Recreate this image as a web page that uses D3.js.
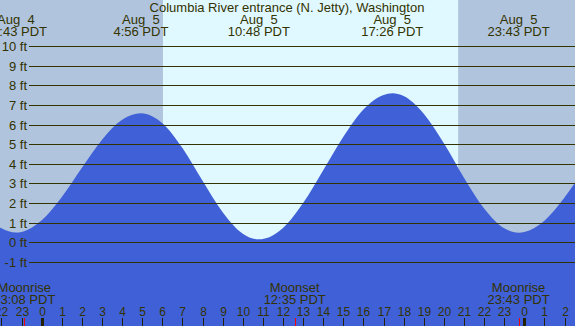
<!DOCTYPE html>
<html>
<head>
<meta charset="utf-8">
<script src="https://cdn.jsdelivr.net/npm/d3@7"></script>
<style>
  body { margin: 0; background: #fff; }
  text { font-family: "Liberation Sans", Arial, sans-serif; fill: #333300; white-space: pre; }
</style>
</head>
<body>
<svg id="chart" width="575" height="326"></svg>
<script>
// hours relative to midnight Aug 5, tide height in feet
const tideHours = [-3, -2, -1, 0, 1, 2, 3, 4, 5, 6, 7, 8, 9, 10, 11, 12, 13, 14, 15, 16, 17, 18, 19, 20, 21, 22, 23, 24, 25, 26, 27];
const tideFeet  = [1.5, 0.72, 0.53, 1.12, 2.31, 3.8, 5.23, 6.24, 6.56, 6.06, 4.8, 3.13, 1.53, 0.44, 0.17, 0.73, 2.0, 3.67, 5.38, 6.77, 7.51, 7.45, 6.55, 5.04, 3.29, 1.72, 0.71, 0.52, 1.1, 2.28, 3.77];

// high / low tides
const extremeHours = [-1.283, 4.933, 10.8, 17.433, 23.717];
const extremeFeet = [0.5, 6.57, 0.15, 7.59, 0.49];
const extremeDays = ["Aug  4", "Aug  5", "Aug  5", "Aug  5", "Aug  5"];
const extremeTimes = ["22:43 PDT", "4:56 PDT", "10:48 PDT", "17:26 PDT", "23:43 PDT"];

const moonHours = [-0.867, 12.583, 23.717];
const moonNames = ["Moonrise", "Moonset", "Moonrise"];
const moonTimes = ["23:08 PDT", "12:35 PDT", "23:43 PDT"];

const sunrise = 6.03, sunset = 20.71;
const feetTicks = d3.range(-1, 11);
const hourTicks = d3.range(-2, 27);

const width = 575, height = 326;
const svg = d3.select("#chart");

const x = d3.scaleLinear().domain([0, 24]).range([41.7, 524.3]);
const y = d3.scaleLinear().domain([0, 10]).range([242.3, 46]);

// night / day background
svg.append("rect").attr("x", 0).attr("y", 0).attr("width", width).attr("height", height).attr("fill", "#b0c4de");
svg.append("rect")
  .attr("x", x(sunrise)).attr("y", 0)
  .attr("width", x(sunset) - x(sunrise)).attr("height", height)
  .attr("fill", "#e0f8ff");

// water: hourly readings plus the extremes, sorted by time
const pts = tideHours.map((h, i) => [h, tideFeet[i]])
  .filter(p => extremeHours.every(e => Math.abs(e - p[0]) > 0.25))
  .concat(extremeHours.map((h, i) => [h, extremeFeet[i]]))
  .sort((a, b) => a[0] - b[0]);
const area = d3.area()
  .x(d => x(d[0]))
  .y0(height)
  .y1(d => y(d[1]))
  .curve(d3.curveMonotoneX);
svg.append("path").datum(pts).attr("d", area).attr("fill", "#4060d8");

// horizontal grid + feet labels
feetTicks.forEach(f => {
  const yy = Math.round(y(f)) + 0.5;
  svg.append("line")
    .attr("x1", 29).attr("x2", width)
    .attr("y1", yy).attr("y2", yy)
    .attr("stroke", "#333300").attr("stroke-width", 1);
  svg.append("text")
    .attr("x", 27).attr("y", yy + 4.5)
    .attr("text-anchor", "end")
    .attr("font-size", 13)
    .text(f + " ft");
});

// title
svg.append("text")
  .attr("x", 287).attr("y", 12)
  .attr("text-anchor", "middle")
  .attr("font-size", 13)
  .text("Columbia River entrance (N. Jetty), Washington");

// high / low labels
extremeHours.forEach((h, i) => {
  svg.append("text").attr("x", x(h)).attr("y", 24)
    .attr("text-anchor", "middle").attr("font-size", 13).text(extremeDays[i]);
  svg.append("text").attr("x", x(h)).attr("y", 36)
    .attr("text-anchor", "middle").attr("font-size", 13).text(extremeTimes[i]);
});

// moon labels
moonHours.forEach((h, i) => {
  svg.append("text").attr("x", x(h)).attr("y", 292)
    .attr("text-anchor", "middle").attr("font-size", 13).text(moonNames[i]);
  svg.append("text").attr("x", x(h)).attr("y", 304)
    .attr("text-anchor", "middle").attr("font-size", 13).text(moonTimes[i]);
});

// hour axis
hourTicks.forEach(h => {
  const xx = Math.round(x(h)) + 0.5;
  const midnight = ((h % 24) + 24) % 24 === 0;
  svg.append("line")
    .attr("x1", xx).attr("x2", xx)
    .attr("y1", 318).attr("y2", height)
    .attr("stroke", "#222200")
    .attr("stroke-width", midnight ? 3 : 1);
  svg.append("text")
    .attr("x", xx).attr("y", 316)
    .attr("text-anchor", "middle").attr("font-size", 12)
    .text(((h % 24) + 24) % 24);
});

// moon event ticks
moonHours.forEach(h => {
  const xx = Math.round(x(h)) + 0.5;
  svg.append("line")
    .attr("x1", xx).attr("x2", xx)
    .attr("y1", 318).attr("y2", height)
    .attr("stroke", "#ff0000").attr("stroke-width", 1);
});
</script>
</body>
</html>
